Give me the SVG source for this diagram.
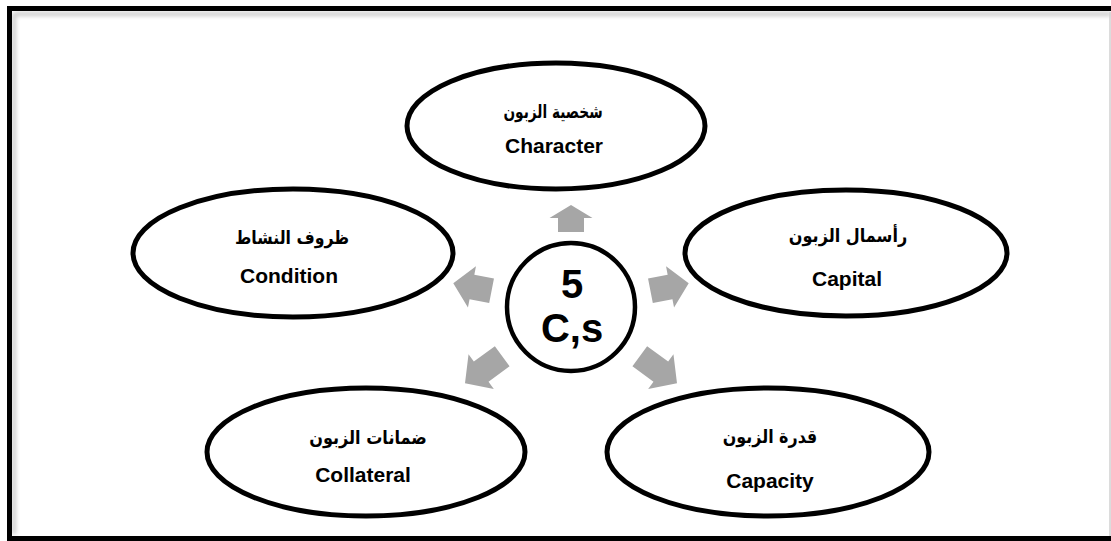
<svg xmlns="http://www.w3.org/2000/svg" width="1111" height="541" viewBox="0 0 1111 541">
  <defs>
    <filter id="soft" x="-5%" y="-5%" width="110%" height="110%">
      <feGaussianBlur stdDeviation="2"/>
    </filter>
    <path id="arrowShort" d="M0,0 L-13,-21.5 L-13,-13 L-27,-13 L-27,13 L-13,13 L-13,21.5 Z"/>
    <path id="arrowMid" d="M0,0 L-19,-21 L-19,-12.5 L-39,-12.5 L-39,12.5 L-19,12.5 L-19,21 Z"/>
    <path id="arrowLong" d="M0,0 L-20,-21.5 L-20,-12.5 L-46,-12.5 L-46,12.5 L-20,12.5 L-20,21.5 Z"/>
  </defs>
  <style>
    .node { fill: #ffffff; stroke: #000000; stroke-width: 5; }
    .hub { fill: #ffffff; stroke: #000000; stroke-width: 4.5; }
    .ar { font-family: "DejaVu Sans", "Noto Sans", sans-serif; font-weight: bold; font-size: 18.5px; text-anchor: middle; fill: #000; }
    .en { font-family: "Liberation Sans", Arial, sans-serif; font-weight: bold; font-size: 21px; text-anchor: middle; fill: #000; }
    .big { font-family: "Liberation Sans", Arial, sans-serif; font-weight: bold; font-size: 40px; text-anchor: middle; fill: #000; }
    .arrow { fill: #a6a6a6; }
  </style>

  <rect width="1111" height="541" fill="#ffffff"/>

  <!-- page frame with a soft inner shadow -->
  <g id="frame">
    <path d="M14,14 H1111 M14,14 V534" fill="none" stroke="#c8c8c8" stroke-width="4" filter="url(#soft)"/>
    <line x1="1110" y1="12" x2="1110" y2="536" stroke="#d0d0d0" stroke-width="1.5"/>
    <rect x="9.5" y="8.5" width="1112" height="530" fill="none" stroke="#000000" stroke-width="5"/>
  </g>

  <!-- arrows from the hub out to each factor -->
  <g id="connectors">
    <use href="#arrowShort" class="arrow" transform="translate(571,205) rotate(-90)"/>
    <use href="#arrowMid" class="arrow" transform="translate(453.3,283.3) rotate(191)"/>
    <use href="#arrowMid" class="arrow" transform="translate(688.7,283.3) rotate(-11)"/>
    <use href="#arrowLong" class="arrow" transform="translate(465,383.3) rotate(144)"/>
    <use href="#arrowLong" class="arrow" transform="translate(677,383.3) rotate(36)"/>
  </g>

  <g id="hub">
    <circle class="hub" cx="571" cy="307" r="64"/>
    <text class="big" x="572" y="298">5</text>
    <text class="big" x="572" y="342">C,s</text>
  </g>

  <g id="character">
    <ellipse class="node" cx="556" cy="126" rx="149" ry="63"/>
    <text class="ar" transform="translate(553,118) scale(0.74,1)" direction="rtl">شخصية الزبون</text>
    <text class="en" x="554" y="153">Character</text>
  </g>

  <g id="condition">
    <ellipse class="node" cx="293" cy="253" rx="160" ry="64"/>
    <text class="ar" transform="translate(292,244) scale(0.85,1)" direction="rtl">ظروف النشاط</text>
    <text class="en" x="289" y="283">Condition</text>
  </g>

  <g id="capital">
    <ellipse class="node" cx="846" cy="253" rx="161" ry="63"/>
    <text class="ar" transform="translate(848,242) scale(0.87,1)" direction="rtl">رأسمال الزبون</text>
    <text class="en" x="847" y="286">Capital</text>
  </g>

  <g id="collateral">
    <ellipse class="node" cx="366" cy="452" rx="159" ry="64"/>
    <text class="ar" transform="translate(368,444) scale(0.87,1)" direction="rtl">ضمانات الزبون</text>
    <text class="en" x="363" y="482">Collateral</text>
  </g>

  <g id="capacity">
    <ellipse class="node" cx="768" cy="452" rx="161" ry="64"/>
    <text class="ar" transform="translate(770,443) scale(0.86,1)" direction="rtl">قدرة الزبون</text>
    <text class="en" x="770" y="488">Capacity</text>
  </g>
</svg>
